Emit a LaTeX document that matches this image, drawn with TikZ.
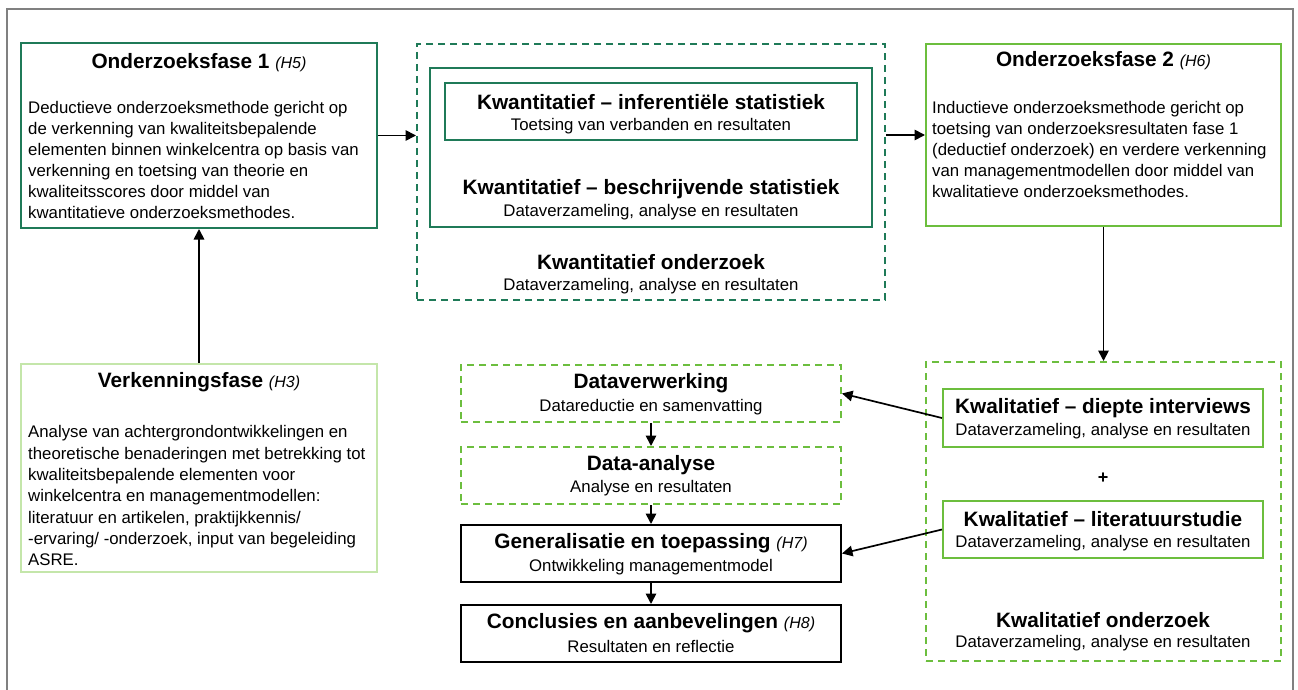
\documentclass[tikz,border=0pt]{standalone}
\usepackage{fontspec}
\setmainfont{Liberation Sans}
\usetikzlibrary{arrows.meta}

\definecolor{dkgreen}{RGB}{31,122,88}
\definecolor{ltgreen}{RGB}{108,190,62}
\definecolor{palegreen}{RGB}{196,230,170}
\definecolor{framegray}{RGB}{128,128,128}

\newcommand\titlefont{\fontsize{20.8}{25}\selectfont\bfseries}
\newcommand\bodyfont{\fontsize{16.8}{21}\selectfont}
\newcommand\hchap[1]{{\fontsize{16}{20}\selectfont\mdseries\itshape #1}}

\tikzset{
  box/.style={draw, inner sep=0pt, line width=2pt},
  darkbox/.style={box, draw=dkgreen},
  darkdash/.style={box, draw=dkgreen, dash pattern=on 7pt off 5pt},
  lightbox/.style={box, draw=ltgreen},
  lightdash/.style={box, draw=ltgreen, dash pattern=on 7pt off 5pt},
  palebox/.style={box, draw=palegreen},
  blackbox/.style={box, draw=black},
  ttl/.style={inner sep=0pt, anchor=center, font=\titlefont},
  sub/.style={inner sep=0pt, anchor=center, font=\bodyfont},
  para/.style={inner sep=0pt, anchor=north west, align=left, font=\bodyfont},
  arr/.style={line width=1.7pt, -{Triangle[length=10.5pt,width=10.5pt]}},
}

\begin{document}
\begin{tikzpicture}[x=1pt,y=-1pt]
\useasboundingbox (0,0) rectangle (1298,690);

% page frame
\draw[framegray, line width=2.4pt] (7,690) -- (7,9) -- (1293,9) -- (1293,690);

% ---- research phase 1 ----
\node[darkbox, minimum width=356, minimum height=185] (f1) at (199,135.5) {};
\node[ttl] (f1t) at (199,63) {Onderzoeksfase 1 \hchap{(H5)}};
\node[para] (f1b) at (28,101.5) {Deductieve onderzoeksmethode gericht op\\
de verkenning van kwaliteitsbepalende\\
elementen binnen winkelcentra op basis van\\
verkenning en toetsing van theorie en\\
kwaliteitsscores door middel van\\
kwantitatieve onderzoeksmethodes.};

% ---- quantitative research ----
\node[darkdash, minimum width=468, minimum height=256] (quant) at (651,172) {};
\node[darkbox, minimum width=442, minimum height=159] (qdesc) at (651,147.5) {};
\node[darkbox, minimum width=412, minimum height=57] (qinf) at (651,111.5) {};
\node[ttl] (qinft) at (651,102) {Kwantitatief -- inferentiële statistiek};
\node[sub] (qinfs) at (651,126) {Toetsing van verbanden en resultaten};
\node[ttl] (qdesct) at (651,189) {Kwantitatief -- beschrijvende statistiek};
\node[sub] (qdescs) at (651,212) {Dataverzameling, analyse en resultaten};
\node[ttl] (quantt) at (651,262) {Kwantitatief onderzoek};
\node[sub] (quants) at (651,286) {Dataverzameling, analyse en resultaten};

% ---- research phase 2 ----
\node[lightbox, minimum width=355, minimum height=182] (f2) at (1103.5,135) {};
\node[ttl] (f2t) at (1103.5,61) {Onderzoeksfase 2 \hchap{(H6)}};
\node[para] (f2b) at (932,101.5) {Inductieve onderzoeksmethode gericht op\\
toetsing van onderzoeksresultaten fase 1\\
(deductief onderzoek) en verdere verkenning\\
van managementmodellen door middel van\\
kwalitatieve onderzoeksmethodes.};

% ---- exploration phase ----
\node[palebox, minimum width=356, minimum height=208] (verk) at (199,468) {};
\node[ttl] (verkt) at (199,382) {Verkenningsfase \hchap{(H3)}};
\node[para, font=\fontsize{16.8}{21.3}\selectfont] (verkb) at (28,425.5) {Analyse van achtergrondontwikkelingen en\\
theoretische benaderingen met betrekking tot\\
kwaliteitsbepalende elementen voor\\
winkelcentra en managementmodellen:\\
literatuur en artikelen, praktijkkennis/\\
-ervaring/ -onderzoek, input van begeleiding\\
ASRE.};

% ---- processing column ----
\node[lightdash, minimum width=380, minimum height=57] (dverw) at (651,393.5) {};
\node[ttl] (dverwt) at (651,383) {Dataverwerking};
\node[sub] (dverws) at (651,407) {Datareductie en samenvatting};

\node[lightdash, minimum width=380, minimum height=57] (dana) at (651,475.5) {};
\node[ttl] (danat) at (651,465) {Data-analyse};
\node[sub] (danas) at (651,488) {Analyse en resultaten};

\node[blackbox, minimum width=380, minimum height=57] (gen) at (651,553.5) {};
\node[ttl] (gent) at (651,543) {Generalisatie en toepassing \hchap{(H7)}};
\node[sub] (gens) at (651,567) {Ontwikkeling managementmodel};

\node[blackbox, minimum width=380, minimum height=57] (concl) at (651,633.5) {};
\node[ttl] (conclt) at (651,623) {Conclusies en aanbevelingen \hchap{(H8)}};
\node[sub] (concls) at (651,646) {Resultaten en reflectie};

% ---- qualitative research ----
\node[lightdash, minimum width=355, minimum height=299] (kwal) at (1103.5,511.5) {};
\node[lightbox, minimum width=320, minimum height=58] (diep) at (1103,418) {};
\node[ttl] (diept) at (1103,408) {Kwalitatief -- diepte interviews};
\node[sub] (dieps) at (1103,431) {Dataverzameling, analyse en resultaten};
\node[ttl, font=\fontsize{18}{20}\selectfont\bfseries] (plus) at (1103,478) {+};
\node[lightbox, minimum width=320, minimum height=57] (lit) at (1103,529.5) {};
\node[ttl] (litt) at (1103,519) {Kwalitatief -- literatuurstudie};
\node[sub] (lits) at (1103,543) {Dataverzameling, analyse en resultaten};
\node[ttl] (kwalt) at (1103,620) {Kwalitatief onderzoek};
\node[sub] (kwals) at (1103,643) {Dataverzameling, analyse en resultaten};

% ---- connectors ----
\draw[arr] (verk.north) -- (f1.south);
\draw[arr] (f1.east) -- (f1.east -| quant.west);
\draw[arr] (f2.west -| quant.east) -- (f2.west);
\draw[arr] (f2.south) -- (kwal.north);
\draw[arr] (diep.west) -- (dverw.east);
\draw[arr] (lit.west) -- (gen.east);
\draw[arr] (dverw.south) -- (dana.north);
\draw[arr] (dana.south) -- (gen.north);
\draw[arr] (gen.south) -- (concl.north);
\end{tikzpicture}
\end{document}
